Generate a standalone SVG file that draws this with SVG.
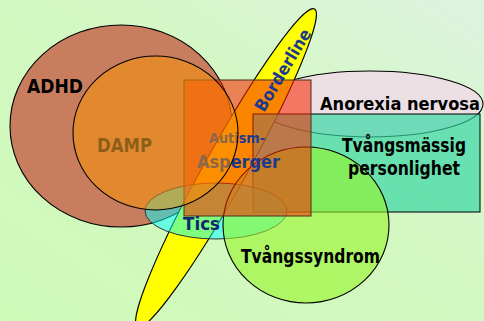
<svg xmlns="http://www.w3.org/2000/svg" width="484" height="321" viewBox="0 0 484 321">
<defs>
<linearGradient id="bg" x1="0" y1="1" x2="1" y2="0">
<stop offset="0" stop-color="#cffab8"/>
<stop offset="0.55" stop-color="#d3f8c2"/>
<stop offset="1" stop-color="#ddf3df"/>
</linearGradient>
</defs>
<style>
.lbl{font-family:"DejaVu Sans","Liberation Sans",sans-serif;font-weight:bold;}
.blk{fill:#000;}
.blue{fill:#1c3a8c;}
.ol{stroke:#000;stroke-width:1.1;}
</style>
<rect x="0" y="0" width="484" height="321" fill="url(#bg)"/>
<g id="adhd">
<ellipse cx="121" cy="126" rx="111" ry="101" fill="#c87d5f" class="ol"/>
<text class="lbl blk" x="27" y="93" font-size="19" textLength="56" lengthAdjust="spacingAndGlyphs">ADHD</text>
</g>
<g id="anorexia">
<ellipse cx="370" cy="104" rx="113" ry="33" fill="#ebdfe4" class="ol"/>
</g>
<g id="borderline">
<ellipse cx="226" cy="168" rx="182" ry="21" transform="rotate(-60.9 226 168)" fill="#ffff00" class="ol"/>
</g>
<g id="tvangsmassig">
<rect x="253" y="114" width="227" height="98" fill="#33d5a4" fill-opacity="0.68" stroke="#111" stroke-width="1.1"/>
</g>
<g id="tics">
<ellipse cx="216" cy="211" rx="71" ry="28" fill="#00ffff" fill-opacity="0.5" stroke="#333" stroke-width="1"/>
</g>
<g id="tvangssyndrom">
<ellipse cx="306" cy="225" rx="83" ry="78" fill="#96f528" fill-opacity="0.6" class="ol"/>
</g>
<g id="autism">
<rect x="184" y="80" width="127" height="136" fill="#fa2800" fill-opacity="0.57" stroke="#5a3a20" stroke-width="1.1"/>
<text class="lbl blue" x="209" y="143" font-size="14" textLength="56" lengthAdjust="spacingAndGlyphs">Autism-</text>
<text class="lbl blue" x="197" y="168" font-size="18" textLength="83" lengthAdjust="spacingAndGlyphs">Asperger</text>
</g>
<g id="damp">
<text class="lbl" fill="#1f2931" x="97" y="152" font-size="20" textLength="55" lengthAdjust="spacingAndGlyphs">DAMP</text>
<ellipse cx="155.5" cy="133" rx="82.5" ry="77" fill="#fd9700" fill-opacity="0.49" class="ol"/>
</g>
<g id="labels">
<text class="lbl blue" transform="translate(264 113) rotate(-59)" x="0" y="0" font-size="17" textLength="93" lengthAdjust="spacingAndGlyphs">Borderline</text>
<text class="lbl blk" x="320" y="110" font-size="18" textLength="160" lengthAdjust="spacingAndGlyphs">Anorexia nervosa</text>
<text class="lbl blk" x="342" y="152" font-size="19" textLength="124" lengthAdjust="spacingAndGlyphs">Tvångsmässig</text>
<text class="lbl blk" x="348" y="175" font-size="19" textLength="112" lengthAdjust="spacingAndGlyphs">personlighet</text>
<text class="lbl blk" x="241" y="263" font-size="19" textLength="139" lengthAdjust="spacingAndGlyphs">Tvångssyndrom</text>
<text class="lbl" fill="#14286e" x="183" y="230" font-size="18" textLength="37" lengthAdjust="spacingAndGlyphs">Tics</text>
</g>
<g id="connectors"></g>
</svg>
